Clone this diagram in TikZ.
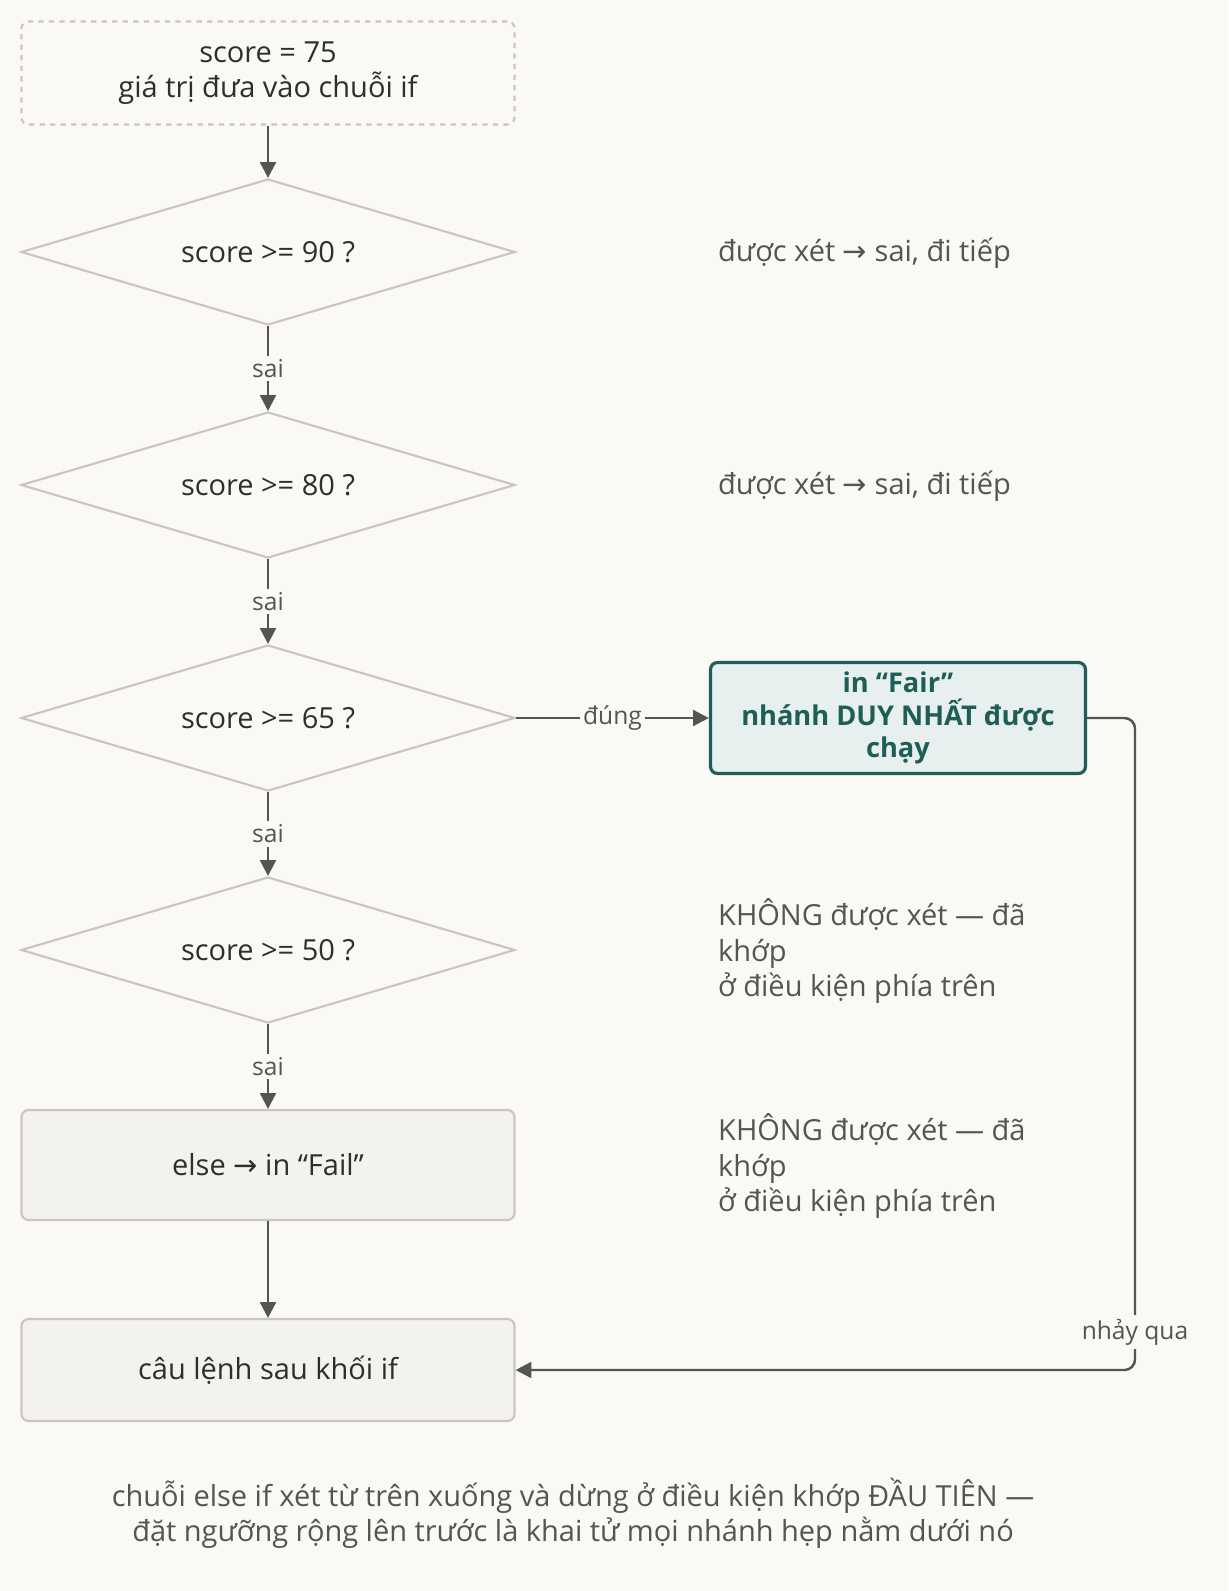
\documentclass[tikz,border=0pt]{standalone}
\usepackage{fontspec}
\setmainfont{Open Sans}
\newfontfamily\symf{DejaVu Sans}
\newcommand{\rar}{{\symf →}}
\usetikzlibrary{shapes.geometric,arrows.meta}
\definecolor{bg}{HTML}{FAF9F6}
\definecolor{ln}{HTML}{55554F}
\definecolor{bd}{HTML}{C9C6BC}
\definecolor{tx}{HTML}{2E2E2A}
\definecolor{nt}{HTML}{55554F}
\definecolor{teal}{HTML}{1F5E56}
\definecolor{tealf}{HTML}{E7F0EE}
\definecolor{boxf}{HTML}{F3F2EE}
\begin{document}
\begin{tikzpicture}[x=0.02cm,y=-0.02cm,font=\fontsize{16.5}{20}\selectfont,text=tx,
  dia/.style={diamond,draw=bd,line width=1.2pt,minimum width=494*0.02cm,minimum height=146*0.02cm,aspect=3.4,inner sep=0pt},
  box/.style={draw=bd,fill=boxf,rounded corners=4pt,line width=1.2pt,minimum width=493*0.02cm,minimum height=#1*0.02cm},
  arr/.style={draw=ln,line width=1.4pt,-{Triangle[length=9pt,width=9pt]}},
  lab/.style={fill=bg,inner sep=2pt,text=nt,font=\fontsize{14}{16}\selectfont},
  note/.style={anchor=west,text=nt,align=left,font=\fontsize{16.5}{20}\selectfont}]
\fill[bg] (0,0) rectangle (1228,1591);
\useasboundingbox (0,0) rectangle (1228,1591);
\node[draw=bd,dashed,line width=1.2pt,rounded corners=4pt,minimum width=493*0.02cm,minimum height=103*0.02cm,align=center] (s) at (268,73) {score = 75\\giá trị đưa vào chuỗi if};
\node[dia] (d1) at (268,252) {score >= 90 ?};
\node[dia] (d2) at (268,485) {score >= 80 ?};
\node[dia] (d3) at (268,718) {score >= 65 ?};
\node[dia] (d4) at (268,950) {score >= 50 ?};
\node[box=110] (e) at (268,1165) {else \rar{} in “Fail”};
\node[box=102] (f) at (268,1370) {câu lệnh sau khối if};
\node[draw=teal,fill=tealf,line width=1.8pt,rounded corners=4pt,minimum width=375*0.02cm,minimum height=111*0.02cm,inner xsep=1pt,inner ysep=0pt,align=center,text=teal,font=\bfseries\fontsize{15.5}{18.5}\selectfont] (fair) at (898,718) {in “Fair”\\nhánh DUY NHẤT được\\chạy};
\draw[arr] (s) -- (d1);
\draw[arr] (d1) -- node[lab]{sai} (d2);
\draw[arr] (d2) -- node[lab]{sai} (d3);
\draw[arr] (d3) -- node[lab]{sai} (d4);
\draw[arr] (d4) -- node[lab]{sai} (e);
\draw[arr] (e) -- (f);
\draw[arr] (d3.east) -- node[lab]{đúng} (fair.west);
\coordinate (c1) at (1135,718);
\coordinate (c2) at (1135,1370);
\draw[arr,rounded corners=6pt] (fair.east) -- (c1) -- (c2) -- (f.east);
\node[lab] at (1135,1332) {nhảy qua};
\node[note] (n1) at (712,253) {được xét \rar{} sai, đi tiếp};
\node[note] (n2) at (712,486) {được xét \rar{} sai, đi tiếp};
\node[note] (n3) at (712,951) {KHÔNG được xét — đã\\khớp\\ở điều kiện phía trên};
\node[note] (n4) at (712,1166) {KHÔNG được xét — đã\\khớp\\ở điều kiện phía trên};
\node[align=center,text=nt] (cap) at (573,1513) {chuỗi else if xét từ trên xuống và dừng ở điều kiện khớp ĐẦU TIÊN —\\đặt ngưỡng rộng lên trước là khai tử mọi nhánh hẹp nằm dưới nó};
\end{tikzpicture}
\end{document}
